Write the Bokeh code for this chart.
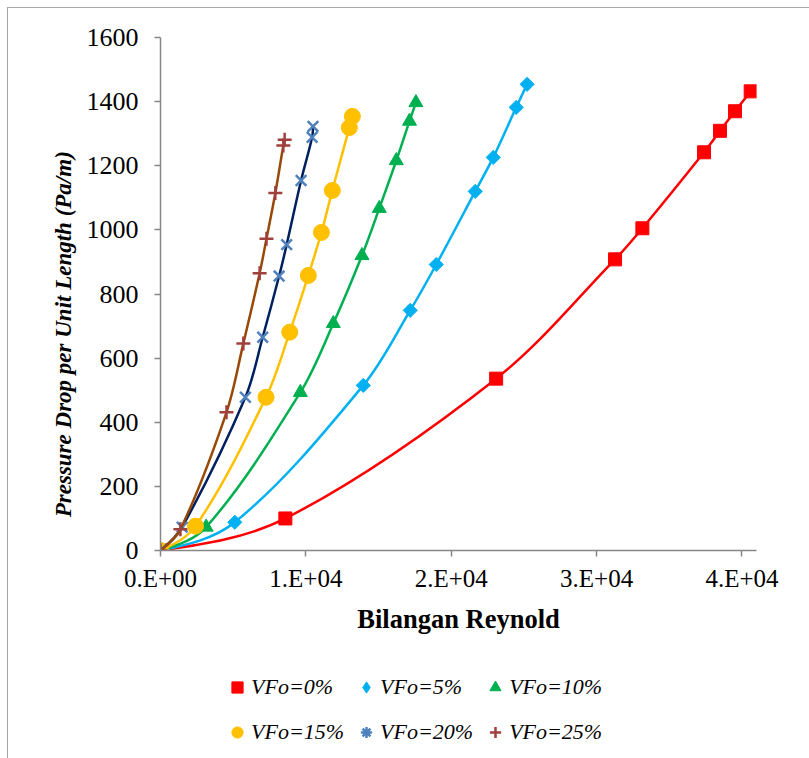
import numpy as np
from bokeh.plotting import figure
from bokeh.layouts import column
from bokeh.models import Range1d, FixedTicker, Legend, LegendItem
from bokeh.embed import file_html
from bokeh.resources import INLINE

# ---- data ----
re_0 = [0, 8590, 23090, 31270, 33150, 37390, 38490, 39520, 40600]
dp_0 = [0, 100, 536, 908, 1005, 1242, 1309, 1370, 1432]
re_5 = [0, 5110, 13950, 17180, 18970, 21650, 22890, 24470, 25220]
dp_5 = [0, 88, 515, 749, 892, 1120, 1226, 1382, 1454]
re_10 = [0, 3140, 9620, 11890, 13860, 15050, 16220, 17130, 17570]
dp_10 = [0, 73, 493, 708, 920, 1067, 1216, 1339, 1397]
re_15 = [0, 2410, 7260, 8890, 10170, 11070, 11820, 12990, 13200]
dp_15 = [0, 76, 478, 681, 858, 992, 1123, 1319, 1354]
re_20 = [0, 1490, 5840, 7030, 8160, 8680, 9670, 10430, 10490]
dp_20 = [0, 73, 478, 665, 856, 954, 1154, 1289, 1323]
re_25 = [0, 1370, 4540, 5700, 6820, 7290, 7900, 8450, 8540]
dp_25 = [0, 66, 431, 646, 865, 972, 1115, 1263, 1281]

series_names = ["VFo=0%", "VFo=5%", "VFo=10%", "VFo=15%", "VFo=20%", "VFo=25%"]
x_ticks = [0, 10000, 20000, 30000, 40000]
x_tick_labels = ["0.E+00", "1.E+04", "2.E+04", "3.E+04", "4.E+04"]
y_ticks = [0, 200, 400, 600, 800, 1000, 1200, 1400, 1600]
x_max = 41000
y_max = 1600

FONT = "Liberation Serif"
W, H1, H2 = 801, 650, 100
MB_L, MB_R, MB_T, MB_B = 152, 53, 29, 108
FW, FH = W - MB_L - MB_R, H1 - MB_T - MB_B

p = figure(width=W, height=H1, x_range=Range1d(0, x_max), y_range=Range1d(0, y_max),
           output_backend="svg", toolbar_location=None,
           min_border_left=MB_L, min_border_right=MB_R, min_border_top=MB_T, min_border_bottom=MB_B)
p.xgrid.visible = False
p.ygrid.visible = False
p.outline_line_color = None

for ax in (p.xaxis, p.yaxis):
    ax.axis_line_color = "#868686"
    ax.axis_line_width = 1.5
    ax.major_tick_line_color = "#868686"
    ax.major_tick_line_width = 1.5
    ax.major_tick_out = 6
    ax.major_tick_in = 0
    ax.minor_tick_line_color = None
    ax.major_label_text_font = FONT
    ax.major_label_text_font_size = "25px"
    ax.major_label_text_color = "black"

p.yaxis.major_label_text_font_size = "26px"
p.xaxis.ticker = FixedTicker(ticks=x_ticks)
p.xaxis.major_label_overrides = {t: l for t, l in zip(x_ticks, x_tick_labels)}
p.xaxis.major_label_standoff = 8
p.yaxis.ticker = FixedTicker(ticks=y_ticks)
p.yaxis.major_label_standoff = 16

p.xaxis.axis_label = "Bilangan Reynold"
p.xaxis.axis_label_text_font = FONT
p.xaxis.axis_label_text_font_size = "26.5px"
p.xaxis.axis_label_text_font_style = "bold"
p.xaxis.axis_label_text_color = "black"
p.xaxis.axis_label_standoff = 9

# trailing no-break spaces shift the centred title downward, as in the reference
p.yaxis.axis_label = "Pressure Drop per Unit Length (Pa/m)" + "\u00a0" * 14
p.yaxis.axis_label_text_font = FONT
p.yaxis.axis_label_text_font_size = "23px"
p.yaxis.axis_label_text_font_style = "bold italic"
p.yaxis.axis_label_text_color = "black"
p.yaxis.axis_label_standoff = 8


def smooth(xs, ys):
    """Smooth Bezier segments through the data points (shape computed in screen proportions)."""
    sx, sy = FW / x_max, FH / y_max
    P = np.column_stack([np.asarray(xs, float) * sx, np.asarray(ys, float) * sy])
    n = len(P)

    def unit(v):
        return v / np.linalg.norm(v)

    T = np.zeros_like(P)
    for i in range(1, n - 1):
        T[i] = unit(P[i + 1] - P[i - 1])
    T[0] = unit(1.5 * unit(P[1] - P[0]) - 0.5 * T[1])
    T[-1] = unit(1.5 * unit(P[-1] - P[-2]) - 0.5 * T[-2])
    segs = {k: [] for k in ("x0", "y0", "x1", "y1", "cx0", "cy0", "cx1", "cy1")}
    for i in range(n - 1):
        d = np.linalg.norm(P[i + 1] - P[i]) / 3
        c0 = P[i] + T[i] * d
        c1 = P[i + 1] - T[i + 1] * d
        segs["x0"].append(P[i][0] / sx); segs["y0"].append(P[i][1] / sy)
        segs["x1"].append(P[i + 1][0] / sx); segs["y1"].append(P[i + 1][1] / sy)
        segs["cx0"].append(c0[0] / sx); segs["cy0"].append(c0[1] / sy)
        segs["cx1"].append(c1[0] / sx); segs["cy1"].append(c1[1] / sy)
    return segs


xs_all = [re_0, re_5, re_10, re_15, re_20, re_25]
ys_all = [dp_0, dp_5, dp_10, dp_15, dp_20, dp_25]
line_colors = ["#FF0000", "#00B0F0", "#00B050", "#FFC000", "#002060", "#984807"]
marker_colors = ["#FF0000", "#00B0F0", "#00B050", "#FFC000", "#4F81BD", "#A0403C"]
markers = ["square", "square", "triangle", "circle", "x", "cross"]
legend_markers = ["square", "diamond", "triangle", "circle", "asterisk", "cross"]
angles = [0, np.pi / 4, 0, 0, 0, 0]
sizes = [13, 10, 14, 16, 15, 14]


def marker_style(mk, ang, sz, mc):
    if mk in ("x", "cross", "asterisk"):
        return dict(marker=mk, size=sz, line_color=mc, line_width=2.5)
    return dict(marker=mk, size=sz, angle=ang, fill_color=mc, line_color=mc, line_width=1)


for xs, ys, lc, mc, mk, ang, sz in zip(xs_all, ys_all, line_colors, marker_colors, markers, angles, sizes):
    seg = smooth(xs, ys)
    p.bezier(line_color=lc, line_width=2.5, **seg)
    p.scatter(xs, ys, **marker_style(mk, ang, sz, mc))

# ---- legend panel (separate figure; its ranges keep the series out of view, only the legend shows) ----
p2 = figure(width=W, height=H2, x_range=Range1d(-2, -1), y_range=Range1d(-2, -1),
            x_axis_type=None, y_axis_type=None, output_backend="svg", toolbar_location=None,
            min_border_left=0, min_border_right=0, min_border_top=0, min_border_bottom=0)
p2.outline_line_color = None
items = []
for xs, ys, mc, mk, sz, name in zip(xs_all, ys_all, marker_colors, legend_markers, sizes, series_names):
    r = p2.scatter(xs, ys, **marker_style(mk, 0, sz, mc))
    items.append(LegendItem(label=name, renderers=[r]))

legend = Legend(items=items, location=(63, 8), orientation="horizontal", ncols=3,
                label_text_font=FONT, label_text_font_size="22px", label_text_font_style="italic",
                label_text_color="black", label_height=37, glyph_height=28, glyph_width=28,
                label_standoff=-3, spacing=8, padding=0, margin=0,
                border_line_color=None, background_fill_alpha=0)
p2.add_layout(legend)

layout = column(p, p2, spacing=0)
layout.styles = {"border-left": "1px solid #a6a6a6", "border-top": "1px solid #a6a6a6",
                 "margin-left": "7px", "margin-top": "7px"}

open("out.html", "w").write(file_html(layout, INLINE))
